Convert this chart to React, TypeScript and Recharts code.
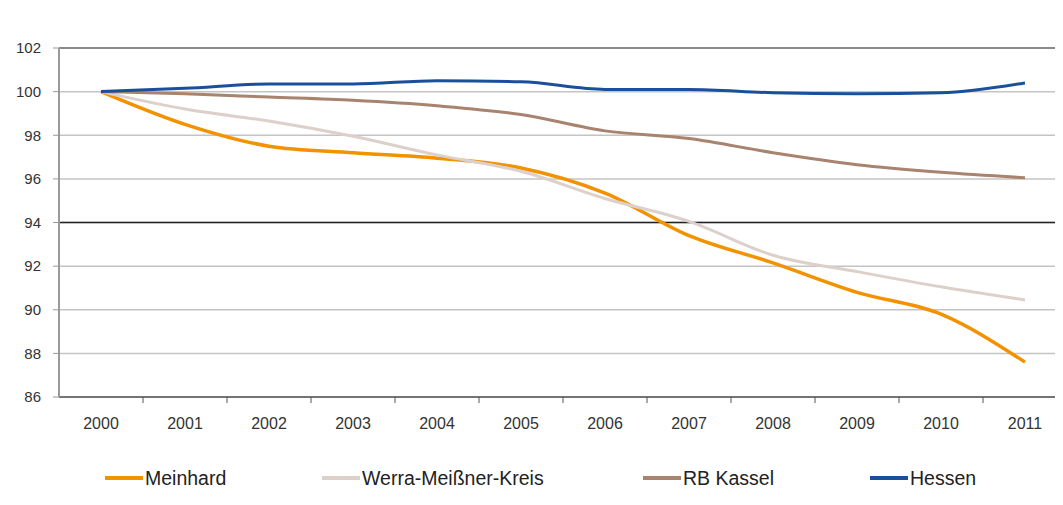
import React from "react";
import {
  LineChart,
  Line,
  XAxis,
  YAxis,
  CartesianGrid,
  ReferenceLine,
} from "recharts";

// Index values, 2000 = 100
const years = ["2000", "2001", "2002", "2003", "2004", "2005", "2006", "2007", "2008", "2009", "2010", "2011"];
const meinhard = [100, 98.5, 97.5, 97.2, 96.95, 96.5, 95.35, 93.4, 92.15, 90.8, 89.8, 87.6];
const werra = [100, 99.2, 98.65, 97.95, 97.1, 96.35, 95.1, 94.05, 92.5, 91.75, 91.05, 90.45];
const rbKassel = [100, 99.9, 99.75, 99.6, 99.35, 98.95, 98.2, 97.85, 97.2, 96.65, 96.3, 96.05];
const hessen = [100, 100.15, 100.35, 100.35, 100.5, 100.45, 100.1, 100.1, 99.95, 99.9, 99.95, 100.4];
const yTicks = [86, 88, 90, 92, 94, 96, 98, 100, 102];

const SERIES = [
  { key: "Meinhard", values: meinhard, color: "#F39200", width: 3.5 },
  { key: "Werra-Meißner-Kreis", values: werra, color: "#DDD0CB", width: 3 },
  { key: "RB Kassel", values: rbKassel, color: "#A8836E", width: 3 },
  { key: "Hessen", values: hessen, color: "#1A4F9C", width: 3 },
];

const data = years.map((year, i) => {
  const row: Record<string, string | number> = { year };
  for (const s of SERIES) row[s.key] = s.values[i];
  return row;
});

const FONT = "'Liberation Sans', Arial, sans-serif";
const BAND = 84;

function YearTick(props: any) {
  const { x, y, payload, index } = props;
  return (
    <g>
      {index > 0 && (
        <line x1={x - BAND / 2} x2={x - BAND / 2} y1={y - 8} y2={y - 2} stroke="#555" strokeWidth={1} />
      )}
      <text x={x} y={y + 24} textAnchor="middle" fill="#333" fontSize={16} fontFamily={FONT}>
        {payload.value}
      </text>
    </g>
  );
}

const LEGEND_X = [105, 322, 643, 870];

function LegendBox() {
  return (
    <div style={{ position: "absolute", left: 0, top: 464, width: 1063, height: 28, fontFamily: FONT }}>
      {SERIES.map((s, i) => (
        <div
          key={s.key}
          style={{ position: "absolute", left: LEGEND_X[i], top: 0, height: 28, display: "flex", alignItems: "center" }}
        >
          <span style={{ display: "inline-block", width: 38, height: 4, background: s.color }} />
          <span style={{ fontSize: 19.5, color: "#222", marginLeft: 2, lineHeight: "28px" }}>{s.key}</span>
        </div>
      ))}
    </div>
  );
}

export default function App() {
  return (
    <div style={{ position: "relative", margin: -8, width: 1063, height: 505, overflow: "hidden", background: "#fff" }}>
      <div style={{ position: "absolute", left: 8, right: 0, top: 4, height: 2, background: "#222" }} />
      <LineChart width={1067} height={505} data={data} margin={{ top: 48, right: 0, bottom: 78, left: 0 }}>
        <CartesianGrid vertical={false} stroke="#c4c4c4" strokeWidth={1.5} />
        <ReferenceLine y={102} stroke="#8a8a8a" strokeWidth={2} />
        <ReferenceLine y={94} stroke="#222" strokeWidth={1.5} />
        <XAxis
          dataKey="year"
          height={30}
          padding={{ left: 42, right: 42 }}
          tickLine={false}
          axisLine={{ stroke: "#555", strokeWidth: 1.5 }}
          tick={<YearTick />}
          interval={0}
        />
        <YAxis
          width={59}
          domain={[86, 102]}
          ticks={yTicks}
          tickSize={6}
          tickMargin={12}
          tickLine={{ stroke: "#999" }}
          axisLine={{ stroke: "#999", strokeWidth: 2 }}
          tick={{ fill: "#333", fontSize: 15, fontFamily: FONT }}
        />
        {SERIES.map((s) => (
          <Line
            key={s.key}
            type="monotone"
            dataKey={s.key}
            stroke={s.color}
            strokeWidth={s.width}
            dot={false}
            isAnimationActive={false}
          />
        ))}
      </LineChart>
      <LegendBox />
    </div>
  );
}
